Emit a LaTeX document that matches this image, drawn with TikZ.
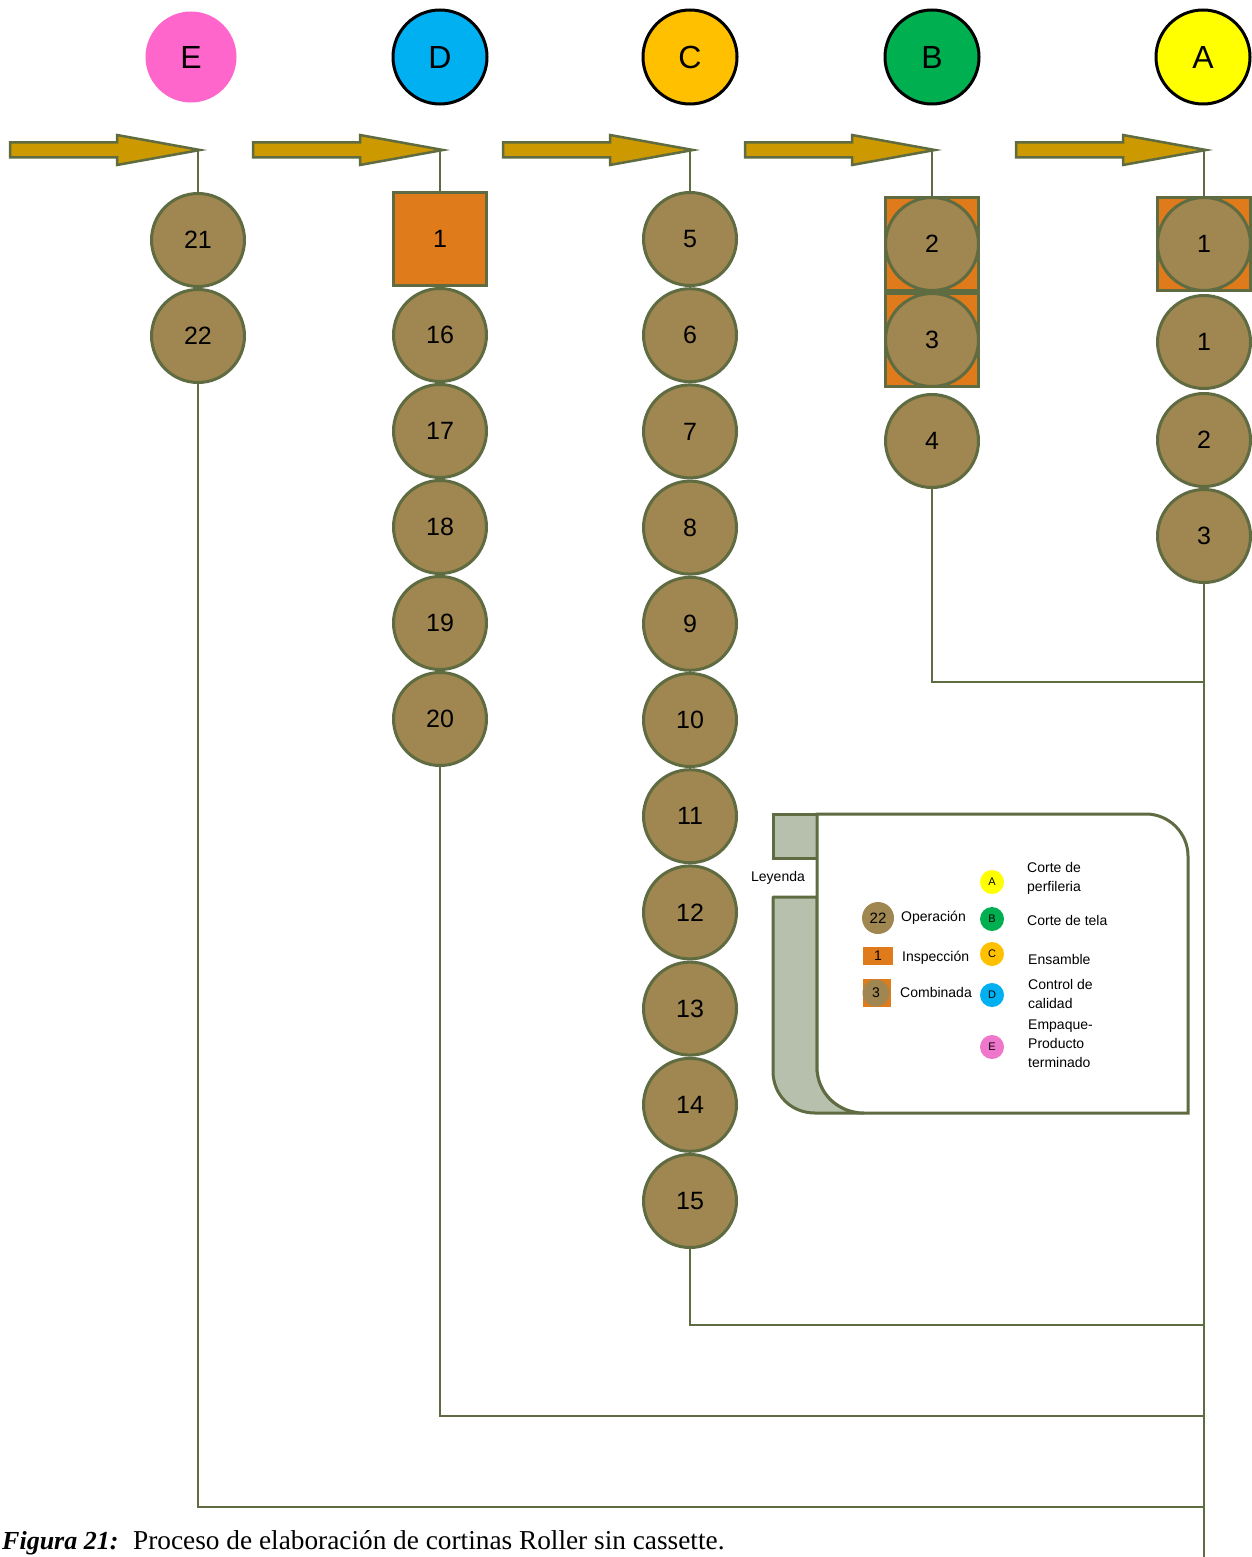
\documentclass[tikz,border=0pt]{standalone}
\usepackage{fontspec}
\setmainfont{Liberation Serif}
\newfontfamily\sansf{Liberation Sans}
\definecolor{olivec}{HTML}{5F6B40}
\definecolor{opbrown}{HTML}{A08650}
\definecolor{insporange}{HTML}{DF7B1B}
\definecolor{arrowgold}{HTML}{CC9900}
\definecolor{tabgray}{HTML}{B6C0AD}
\definecolor{pinkE}{HTML}{FF66CC}
\definecolor{pinkL}{HTML}{EE77CC}
\definecolor{blueD}{HTML}{00B0F0}
\definecolor{goldC}{HTML}{FFC000}
\definecolor{greenB}{HTML}{00B050}
\definecolor{yellowA}{HTML}{FFFF00}
\tikzset{
  op/.style={circle, draw=olivec, line width=3pt, fill=opbrown, minimum size=93pt, inner sep=0pt, font=\sansf\fontsize{25}{28}\selectfont},
  insp/.style={rectangle, draw=olivec, line width=3pt, fill=insporange, minimum size=93pt, inner sep=0pt, font=\sansf\fontsize{25}{28}\selectfont},
  dept/.style={circle, draw=black, line width=3pt, minimum size=94pt, inner sep=0pt, font=\sansf\fontsize{32}{36}\selectfont},
  conn/.style={draw=olivec, line width=2pt},
  arrowst/.style={fill=arrowgold, draw=olivec, line width=2.5pt, line join=miter},
  blockarrow/.pic={\path[arrowst] (-190,-7.5) -- (-83,-7.5) -- (-83,-15) -- (0,0) -- (-83,15) -- (-83,7.5) -- (-190,7.5) -- cycle;},
  legtxt/.style={anchor=west, align=left, inner sep=0pt, font=\sansf\fontsize{14}{19}\selectfont},
  legdot/.style={circle, minimum size=24pt, inner sep=0pt, font=\sansf\fontsize{11}{12}\selectfont},
}
\begin{document}
\begin{tikzpicture}[x=1pt,y=-1pt]
\useasboundingbox (0,0) rectangle (1252,1557);
% department circles
\node[dept, fill=pinkE, draw=none, minimum size=91pt] (E) at (191,57) {E};
\node[dept, fill=blueD] (D) at (440,57) {D};
\node[dept, fill=goldC] (C) at (690,57) {C};
\node[dept, fill=greenB] (B) at (932,57) {B};
\node[dept, fill=yellowA] (A) at (1203,57) {A};
% arrows
\pic at (200,150) {blockarrow};
\pic at (443,150) {blockarrow};
\pic at (693,150) {blockarrow};
\pic at (935,150) {blockarrow};
\pic at (1206,150) {blockarrow};
\coordinate (tE) at (198,150);
\coordinate (tD) at (440,150);
\coordinate (tC) at (690,150);
\coordinate (tB) at (932,150);
\coordinate (tA) at (1204,150);
% junctions
\coordinate (jE) at (1204,1507);
\coordinate (jD) at (1204,1416);
\coordinate (jC) at (1204,1325);
\coordinate (jB) at (1204,682);
\coordinate (abot) at (1204,1562);
% column E
\node[op] (e21) at (198,240) {21};
\node[op] (e22) at (198,336) {22};
\draw[conn] (tE) -- (e21.north);
\draw[conn] (e22.south) |- (jE);
% column D
\node[insp] (d1) at (440,239) {1};
\foreach \i in {16,...,20}{
  \node[op] (d\i) at (440,{335+(\i-16)*96}) {\i};
}
\draw[conn] (tD) -- (d1.north);
\draw[conn] (d20.south) |- (jD);
% column C
\foreach \i in {5,...,15}{
  \node[op] (c\i) at (690,{239+(\i-5)*96.2}) {\i};
}
\draw[conn] (tC) -- (c5.north);
\draw[conn] (c15.south) |- (jC);
% column B
\node[insp] (b2s) at (932,244) {};
\node[op] (b2) at (932,244) {2};
\node[insp] (b3s) at (932,340) {};
\node[op] (b3) at (932,340) {3};
\node[op] (b4) at (932,441) {4};
\draw[conn] (tB) -- (b2s.north);
\draw[conn] (b4.south) |- (jB);
% column A
\node[insp] (a1s) at (1204,244) {};
\node[op] (a1) at (1204,244) {1};
\node[op] (a1b) at (1204,342) {1};
\node[op] (a2) at (1204,440) {2};
\node[op] (a3) at (1204,536) {3};
\draw[conn] (tA) -- (a1s.north);
\draw[conn] (a3.south) -- (abot);
% legend
\path[fill=tabgray, draw=olivec, line width=3pt] (773,814) rectangle (817,858);
\path[fill=tabgray, draw=olivec, line width=3pt, line join=round]
  (773,897) -- (817,897) -- (817,1067) .. controls (817,1093) and (838,1113) .. (864,1113)
  -- (815,1113) .. controls (791,1113) and (773,1095) .. (773,1071) -- cycle;
\path[fill=white, draw=olivec, line width=3pt]
  (817,814) -- (1146,814) .. controls (1169,814) and (1188,833) .. (1188,856)
  -- (1188,1113) -- (864,1113) .. controls (838,1113) and (817,1093) .. (817,1067) -- cycle;
\node[font=\sansf\fontsize{14}{16}\selectfont, inner sep=0pt] (ley) at (778,878) {Leyenda};
\node[circle, fill=opbrown, minimum size=32pt, inner sep=0pt, font=\sansf\fontsize{15}{16}\selectfont] (l22) at (878,918) {22};
\node[legtxt] (lop) at (901,918) {Operación};
\node[rectangle, fill=insporange, minimum width=30pt, minimum height=18pt, inner sep=0pt, font=\sansf\fontsize{14}{16}\selectfont] (l1) at (878,956) {1};
\node[legtxt] (lin) at (902,958) {Inspección};
\node[rectangle, fill=insporange, minimum size=28pt, inner sep=0pt] (l3s) at (877,993) {};
\node[circle, fill=opbrown, minimum size=27pt, inner sep=0pt, font=\sansf\fontsize{14}{16}\selectfont] (l3) at (876,993) {3};
\node[legtxt] (lco) at (900,992) {Combinada};
\node[legdot, fill=yellowA] (lA) at (992,882) {A};
\node[legdot, fill=greenB] (lB) at (992,919) {B};
\node[legdot, fill=goldC] (lC) at (992,954) {C};
\node[legdot, fill=blueD] (lD) at (992,995) {D};
\node[legdot, fill=pinkL] (lE) at (992,1047) {E};
\node[legtxt] (tA1) at (1027,878) {Corte de\\perfileria};
\node[legtxt] (tB1) at (1027,920) {Corte de tela};
\node[legtxt] (tC1) at (1028,959) {Ensamble};
\node[legtxt] (tD1) at (1028,994) {Control de\\calidad};
\node[legtxt] (tE1) at (1028,1044) {Empaque-\\Producto\\terminado};
% caption
\node[anchor=base west, inner sep=0pt, font=\fontsize{27.3}{30}\selectfont] (cap) at (133,1549) {Proceso de elaboración de cortinas Roller sin cassette.};
\node[anchor=base west, inner sep=0pt, font=\fontsize{26}{30}\selectfont] (fig) at (2,1549) {\textbf{\textit{Figura 21:}}};
\end{tikzpicture}
\end{document}
